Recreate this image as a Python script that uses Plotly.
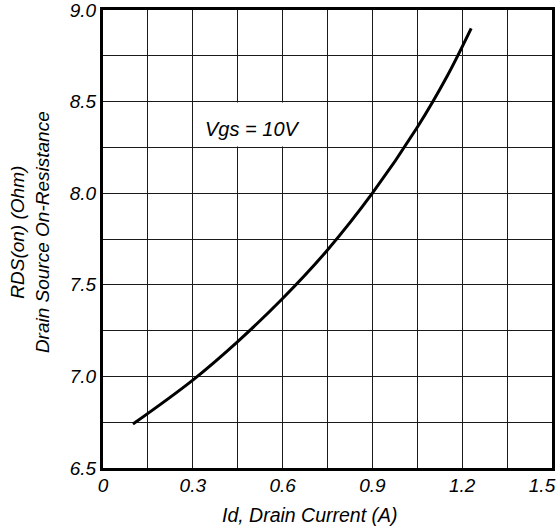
import plotly.graph_objects as go

# Data
id_current = [0.10, 0.30, 0.45, 0.60, 0.75, 0.90, 1.05, 1.15, 1.23]
rds_on = [6.74, 6.98, 7.19, 7.425, 7.69, 8.00, 8.36, 8.64, 8.90]

x_tickvals = [0, 0.3, 0.6, 0.9, 1.2]
x_ticktext = ["0", "0.3", "0.6", "0.9", "1.2"]
x_last_tickval = [1.5]
x_last_ticktext = ["1.5"]
y_tickvals = [6.5, 7.0, 7.5, 8.0, 8.5, 9.0]
y_ticktext = ["6.5", "7.0", "7.5", "8.0", "8.5", "9.0"]

FONT = "Liberation Sans, Arial, sans-serif"
GRID = "#1a1a1a"
TICKFONT = dict(family=FONT, size=19, color="black", style="italic")

fig = go.Figure()
fig.add_trace(go.Scatter(
    x=id_current, y=rds_on, mode="lines",
    line=dict(color="black", width=3, shape="spline", smoothing=1.0),
    showlegend=False, hoverinfo="skip",
))
# invisible helper so the overlay axis carrying the last tick label is drawn
fig.add_trace(go.Scatter(
    x=x_last_tickval, y=[y_tickvals[0]], xaxis="x2", mode="markers",
    marker=dict(opacity=0), showlegend=False, hoverinfo="skip",
))

# white box behind the annotation, hiding the grid
fig.add_shape(type="rect", xref="x", yref="y",
              x0=0.305, x1=0.745, y0=8.255, y1=8.495,
              fillcolor="white", line=dict(width=0), layer="between")
fig.add_annotation(x=0.5, y=8.35, xref="x", yref="y", text="Vgs = 10V",
                   showarrow=False,
                   font=dict(family=FONT, size=20, color="black", style="italic"))

# axis titles as annotations for exact placement
fig.add_annotation(x=0.461, y=-0.1026, xref="paper", yref="paper",
                   xanchor="center", yanchor="middle",
                   text="Id, Drain Current (A)", showarrow=False,
                   font=dict(family=FONT, size=19.5, color="black", style="italic"))
fig.add_annotation(x=-0.1626, y=0.515, xref="paper", yref="paper",
                   xanchor="center", yanchor="middle", textangle=-90,
                   text="RDS(on) (Ohm)<br>Drain Source On-Resistance", showarrow=False,
                   font=dict(family=FONT, size=19, color="black", style="italic"))

axis_common = dict(
    showline=True, linecolor="black", linewidth=3, mirror=True,
    showgrid=True, gridcolor=GRID, gridwidth=1.4,
    zeroline=False, ticks="", automargin=False, ticklabeloverflow="allow",
    tickfont=TICKFONT,
)

fig.update_layout(
    xaxis=dict(
        range=[0, 1.5], tickvals=x_tickvals, ticktext=x_ticktext,
        minor=dict(dtick=0.15, showgrid=True, gridcolor=GRID, gridwidth=1.4, ticks=""),
        ticklabelstandoff=-2,
        **axis_common,
    ),
    xaxis2=dict(
        range=[0, 1.5], overlaying="x", anchor="y", side="bottom",
        tickvals=x_last_tickval, ticktext=x_last_ticktext,
        showgrid=False, showline=True, linecolor="black", linewidth=3,
        zeroline=False, ticks="",
        automargin=False, ticklabeloverflow="allow",
        ticklabelstandoff=-2, ticklabelshift=-10,
        tickfont=TICKFONT,
    ),
    yaxis=dict(
        range=[6.5, 9.0], tickvals=y_tickvals, ticktext=y_ticktext,
        minor=dict(dtick=0.25, showgrid=True, gridcolor=GRID, gridwidth=1.4, ticks=""),
        **axis_common,
    ),
    width=557, height=531,
    margin=dict(l=103, r=5, t=10, b=63),
    paper_bgcolor="white", plot_bgcolor="white",
    font=dict(family=FONT, color="black"),
)

fig.write_html("out.html",
               config={"displayModeBar": False},
               post_script="document.body.style.margin='0px';document.body.style.overflow='hidden';")
